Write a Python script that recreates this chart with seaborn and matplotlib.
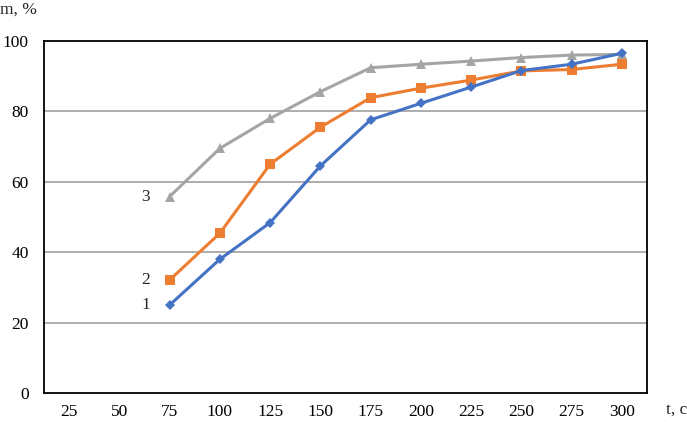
import matplotlib
matplotlib.use('Agg')
import matplotlib.pyplot as plt
import seaborn as sns
import pandas as pd

# Данные
t_ticks = [25, 50, 75, 100, 125, 150, 175, 200, 225, 250, 275, 300]
t_values = [75, 100, 125, 150, 175, 200, 225, 250, 275, 300]
m_curve1 = [25.0, 38.0, 48.4, 64.5, 77.6, 82.3, 86.9, 91.6, 93.4, 96.5]
m_curve2 = [32.1, 45.4, 65.0, 75.5, 83.9, 86.6, 88.9, 91.5, 91.9, 93.4]
m_curve3 = [55.8, 69.5, 78.0, 85.6, 92.4, 93.4, 94.3, 95.3, 96.0, 96.2]
curve_names = ['1', '2', '3']
y_ticks = [0, 20, 40, 60, 80, 100]

df = pd.DataFrame({
    't': t_values * 3,
    'm': m_curve1 + m_curve2 + m_curve3,
    'curve': [n for n in curve_names for _ in t_values],
})

sns.set_theme(style='white')
plt.rcParams['font.family'] = ['Liberation Serif', 'DejaVu Serif']

fig = plt.figure(figsize=(6.87, 4.22), dpi=100)
ax = fig.add_axes([44 / 687, 1 - 393 / 422, 603 / 687, 352 / 422])

colors = {'1': '#4472C4', '2': '#ED7D31', '3': '#A5A5A5'}
markers = {'1': 'D', '2': 's', '3': '^'}
sizes = {'1': 5.5, '2': 7.5, '3': 7.5}

for name in curve_names:
    sub = df[df['curve'] == name]
    sns.lineplot(data=sub, x='t', y='m', ax=ax, color=colors[name], linewidth=2.2,
                 marker=markers[name], markersize=sizes[name], markeredgewidth=0,
                 zorder=3 if name == '1' else 2, legend=False)

ax.set_xlim(12.5, 312.5)
ax.set_ylim(0, 100)
ax.set_xticks(t_ticks)
ax.set_yticks(y_ticks)
ax.tick_params(axis='both', length=0, labelsize=12.5, colors='black')
ax.tick_params(axis='y', pad=11)
ax.tick_params(axis='x', pad=8)
ax.set_xlabel('')
ax.set_ylabel('')

for yv in y_ticks[1:-1]:
    ax.axhline(yv, color='#A0A0A0', linewidth=1.2, zorder=1)

for s in ax.spines.values():
    s.set_color('black')
    s.set_linewidth(1.3)

# подписи кривых
ax.text(63, m_curve3[0], curve_names[2], ha='center', va='center', fontsize=12.5)
ax.text(63, m_curve2[0], curve_names[1], ha='center', va='center', fontsize=12.5)
ax.text(63, m_curve1[0], curve_names[0], ha='center', va='center', fontsize=12.5)

fig.text(0.0, 1 - 10 / 422, 'm, %', ha='left', va='center', fontsize=12.5)
fig.text(1.0, 1 - 410 / 422, 't, c', ha='right', va='center', fontsize=12.5)

fig.savefig('out.png', dpi=100)
